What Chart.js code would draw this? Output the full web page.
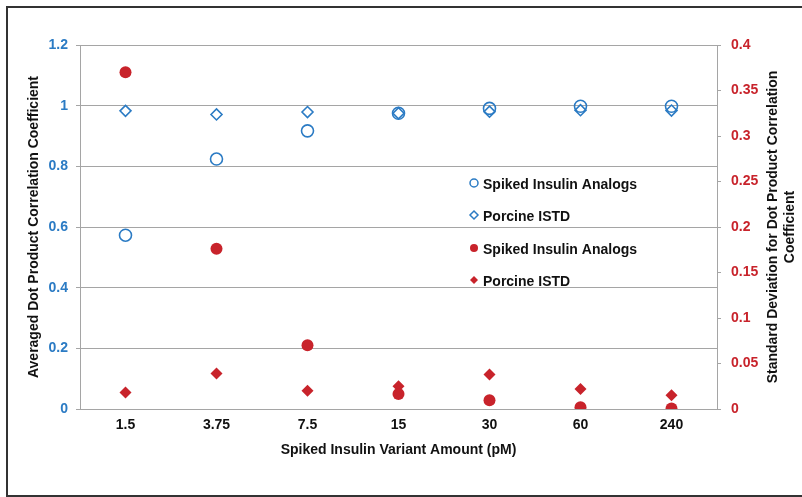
<!DOCTYPE html>
<html>
<head>
<meta charset="utf-8">
<script src="https://cdn.jsdelivr.net/npm/chart.js@4"></script>
<style>
  html, body { margin: 0; padding: 0; background: #fff; }
  #wrap { width: 802px; height: 497px; }
</style>
</head>
<body>
<div id="wrap"><canvas id="dotChart" width="802" height="497"></canvas></div>
<script>
// x categories (pM)
const amounts = ['1.5', '3.75', '7.5', '15', '30', '60', '240'];

// averaged dot product correlation coefficient (left axis)
const avgSpiked = [0.573, 0.824, 0.917, 0.975, 0.991, 0.998, 0.998];
const avgPorcine = [0.983, 0.971, 0.979, 0.975, 0.980, 0.985, 0.984];

// standard deviation (right axis)
const sdSpiked = [0.370, 0.176, 0.070, 0.0165, 0.0095, 0.002, 0.0005];
const sdPorcine = [0.018, 0.039, 0.020, 0.025, 0.038, 0.022, 0.015];

const leftTicks = { min: 0, max: 1.2, step: 0.2 };
const rightTicks = { min: 0, max: 0.4, step: 0.05 };

const BLUE = '#2b7bc4';
const RED = '#c8232b';
const GRID = '#a5a5a5';
const FONT = "'Liberation Sans', Arial, sans-serif";

// plain number labels like 1, 0.8, 0.35
const plainTick = (value) => String(Number(value.toFixed(2)));

// draws the frame, the in-plot legend and the right axis title
const extras = {
    id: 'extras',
    afterDraw(chart) {
        const ctx = chart.ctx;
        ctx.save();

        // outer frame
        ctx.strokeStyle = '#333';
        ctx.lineWidth = 2;
        ctx.strokeRect(7, 7, 820, 489);

        // legend
        const rows = [184, 216, 249, 281];
        ctx.font = 'bold 14px ' + FONT;
        ctx.textBaseline = 'middle';
        ctx.textAlign = 'left';
        chart.data.datasets.forEach((ds, i) => {
            const y = rows[i];
            const x = 474;
            ctx.beginPath();
            if (ds.pointStyle === 'circle') {
                ctx.arc(x, y - 1, 4, 0, Math.PI * 2);
            } else {
                ctx.moveTo(x, y - 5);
                ctx.lineTo(x + 4, y - 1);
                ctx.lineTo(x, y + 3);
                ctx.lineTo(x - 4, y - 1);
                ctx.closePath();
            }
            if (ds.backgroundColor !== 'transparent') {
                ctx.fillStyle = ds.backgroundColor;
                ctx.fill();
            } else {
                ctx.strokeStyle = ds.borderColor;
                ctx.lineWidth = 1.5;
                ctx.stroke();
            }
            ctx.fillStyle = '#111';
            ctx.fillText(ds.label, 483, y + 1);
        });

        // right axis title, reading bottom to top
        const cy = (chart.chartArea.top + chart.chartArea.bottom) / 2;
        ctx.translate(781, cy);
        ctx.rotate(-Math.PI / 2);
        ctx.textAlign = 'center';
        ctx.fillStyle = '#111';
        ctx.fillText('Standard Deviation for Dot Product Correlation', 0, -8);
        ctx.fillText('Coefficient', 0, 9);
        ctx.restore();
    }
};

const dotCtx = document.getElementById('dotChart').getContext('2d');
const dotChart = new Chart(dotCtx, {
    type: 'scatter',
    data: {
        labels: amounts,
        datasets: [{
            label: 'Spiked Insulin Analogs',
            data: avgSpiked,
            yAxisID: 'y',
            pointStyle: 'circle',
            pointRadius: 6,
            borderWidth: 1.6,
            borderColor: BLUE,
            backgroundColor: 'transparent'
        }, {
            label: 'Porcine ISTD',
            data: avgPorcine,
            yAxisID: 'y',
            pointStyle: 'rectRot',
            pointRadius: 5.5,
            borderWidth: 1.6,
            borderColor: BLUE,
            backgroundColor: 'transparent'
        }, {
            label: 'Spiked Insulin Analogs',
            data: sdSpiked,
            yAxisID: 'y2',
            pointStyle: 'circle',
            pointRadius: 6,
            borderWidth: 0,
            borderColor: RED,
            backgroundColor: RED
        }, {
            label: 'Porcine ISTD',
            data: sdPorcine,
            yAxisID: 'y2',
            pointStyle: 'rectRot',
            pointRadius: 6,
            borderWidth: 0,
            borderColor: RED,
            backgroundColor: RED
        }]
    },
    options: {
        responsive: false,
        animation: false,
        showLine: false,
        layout: { padding: { top: 45, left: 0, right: 0, bottom: 0 } },
        plugins: {
            legend: { display: false },
            tooltip: { enabled: false }
        },
        scales: {
            x: {
                type: 'category',
                offset: true,
                grid: { display: false, drawTicks: false, tickLength: 0 },
                border: { display: true, color: GRID, width: 1 },
                ticks: { color: '#111', padding: 8, font: { family: FONT, size: 14, weight: 'bold' } },
                title: {
                    display: true,
                    text: 'Spiked Insulin Variant Amount (pM)',
                    color: '#111',
                    font: { family: FONT, size: 14, weight: 'bold' },
                    padding: { top: 0, bottom: 38 }
                },
                afterFit: (scale) => { scale.height = 88; }
            },
            y: {
                position: 'left',
                min: leftTicks.min,
                max: leftTicks.max,
                grid: { color: GRID, tickLength: 4, lineWidth: 1 },
                border: { display: true, color: GRID, width: 1 },
                ticks: {
                    stepSize: leftTicks.step,
                    color: BLUE,
                    padding: 8,
                    font: { family: FONT, size: 14, weight: 'bold' },
                    callback: plainTick
                },
                title: {
                    display: true,
                    text: 'Averaged Dot Product Correlation Coefficient',
                    color: '#111',
                    font: { family: FONT, size: 14, weight: 'bold' },
                    padding: { top: 26, bottom: 0 }
                },
                afterFit: (scale) => { scale.width = 80; }
            },
            y2: {
                position: 'right',
                min: rightTicks.min,
                max: rightTicks.max,
                grid: { drawOnChartArea: false, color: GRID, tickLength: 4 },
                border: { display: true, color: GRID, width: 1 },
                ticks: {
                    stepSize: rightTicks.step,
                    color: RED,
                    padding: 10,
                    font: { family: FONT, size: 14, weight: 'bold' },
                    callback: plainTick
                },
                afterFit: (scale) => { scale.width = 85; }
            }
        }
    },
    plugins: [extras]
});
</script>
</body>
</html>
